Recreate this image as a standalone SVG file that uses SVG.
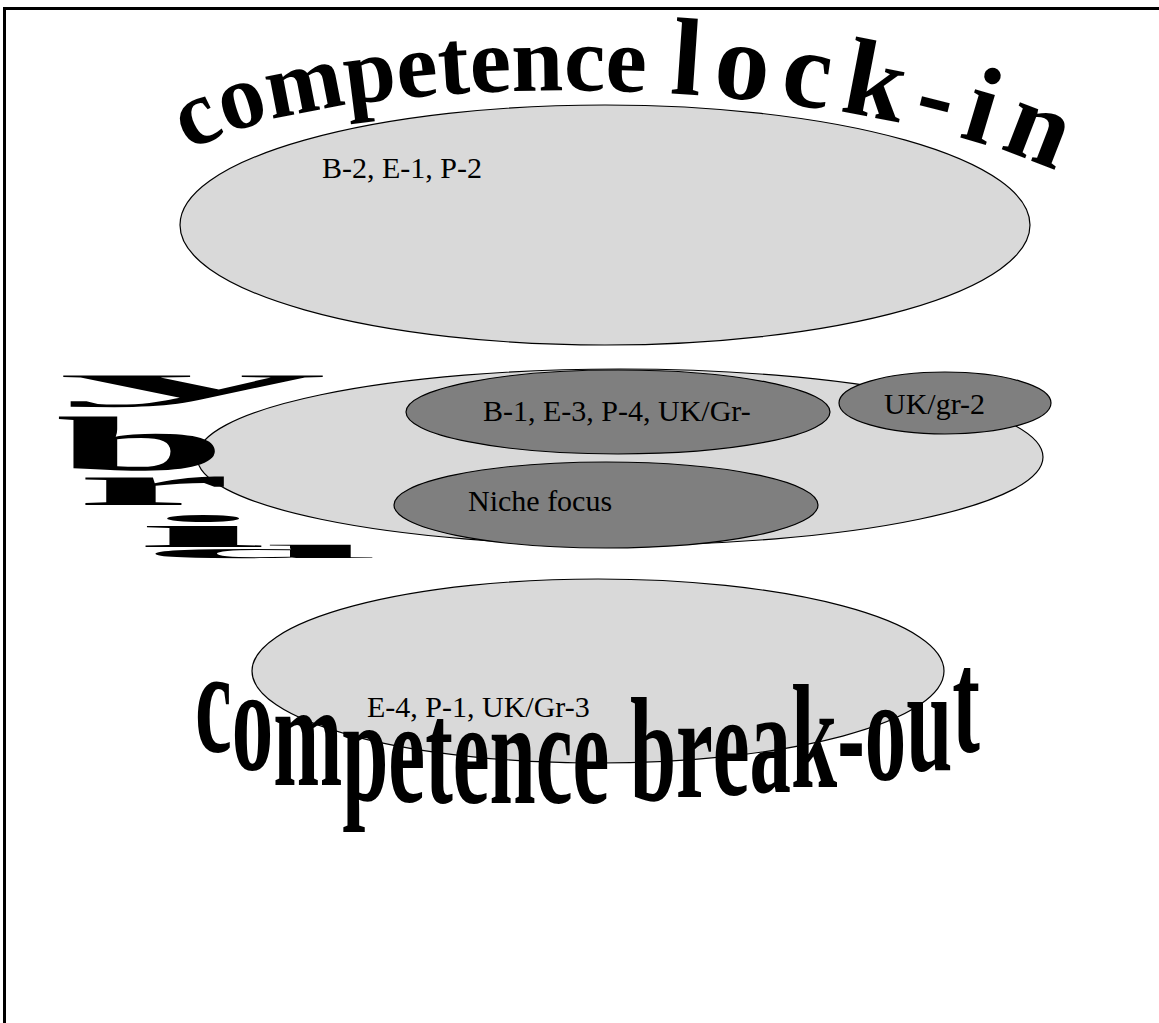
<svg xmlns="http://www.w3.org/2000/svg" width="1159" height="1023" viewBox="0 0 1159 1023">
<style>
.light{fill:#d9d9d9;stroke:#000;stroke-width:1.2}
.dark{fill:#7f7f7f;stroke:#000;stroke-width:1.2}
.lbl{font-family:"Liberation Serif","Times New Roman",serif;font-size:30px;fill:#000}
.wa{font-family:"Liberation Serif","Times New Roman",serif;font-weight:bold;fill:#000}
</style>
<defs>
<path id="arcTop" d="M 190,152 C 310,72 830,58 1080,182"/>
</defs>
<rect width="1159" height="1023" fill="#fff"/>
<g id="frame">
<line x1="3" y1="8.5" x2="1159" y2="8.5" stroke="#000" stroke-width="3"/>
<line x1="4.5" y1="7" x2="4.5" y2="1023" stroke="#000" stroke-width="3"/>
</g>
<g id="lock-in-zone">
<ellipse class="light" cx="605" cy="225" rx="425" ry="120"/>
<text class="lbl" x="322" y="178">B-2, E-1, P-2</text>
</g>
<g id="lock-in-title">
<text class="wa"><textPath href="#arcTop"><tspan font-size="93">competence </tspan><tspan font-size="110" letter-spacing="12">lock-in</tspan></textPath></text>
</g>
<g id="hybrid-zone">
<ellipse class="light" cx="620" cy="457" rx="423" ry="88"/>
</g>
<g id="hybrid-node-1">
<ellipse class="dark" cx="618" cy="412" rx="212" ry="42"/>
<text class="lbl" x="483" y="421">B-1, E-3, P-4, UK/Gr-</text>
</g>
<g id="hybrid-node-2">
<ellipse class="dark" cx="945" cy="403" rx="106" ry="31"/>
<text class="lbl" x="884" y="414">UK/gr-2</text>
</g>
<g id="niche-focus">
<ellipse class="dark" cx="606" cy="505" rx="212" ry="43"/>
<text class="lbl" x="468" y="511">Niche focus</text>
</g>
<g id="hybrid-title">
<text class="wa" font-size="100" transform="translate(58,397) scale(5.4,0.47)">y</text>
<text class="wa" font-size="100" transform="translate(55,470) scale(3.1,0.77)">b</text>
<text class="wa" font-size="100" transform="translate(76,505) scale(3.5,0.6)">r</text>
<text class="wa" font-size="100" transform="translate(135,547) scale(4.8,0.46)">i</text>
<text class="wa" font-size="100" transform="translate(138,558) scale(4.3,0.19)">d</text>
</g>
<g id="break-out-zone">
<ellipse class="light" cx="598" cy="671" rx="346" ry="92"/>
</g>
<g id="break-out-title">
<text class="wa" font-size="148" transform="scale(0.56,1)" x="348.2" y="752 770 785 800 802 803 803 803 803 803 802 800 797 795 792 787 785 780 770 752">competence break-out</text>
</g>
<g id="break-out-label">
<text class="lbl" x="367" y="717">E-4, P-1, UK/Gr-3</text>
</g>
</svg>
